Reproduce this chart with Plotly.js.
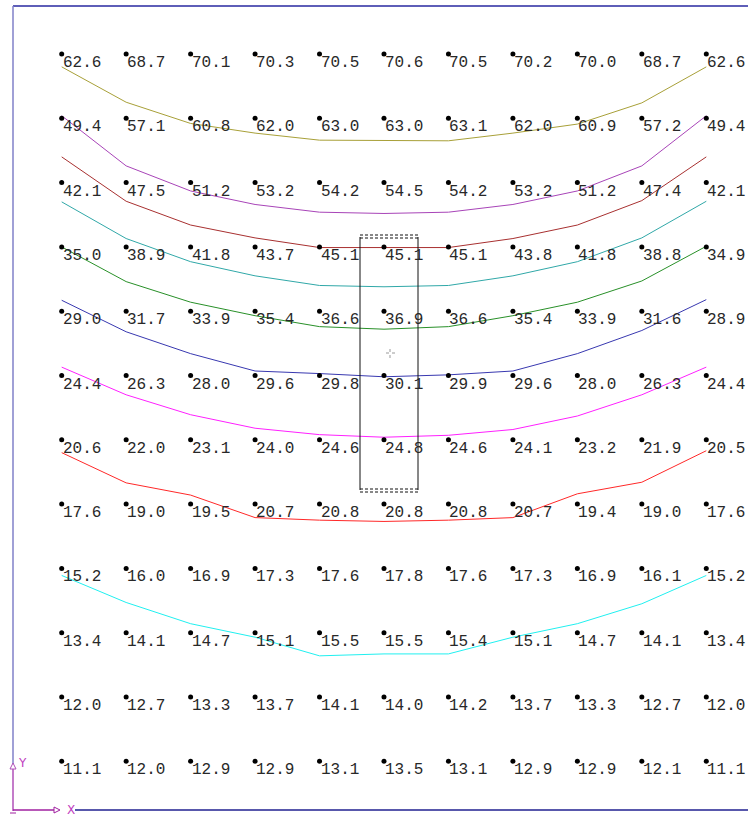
<!DOCTYPE html>
<html><head><meta charset="utf-8">
<script src="https://cdn.plot.ly/plotly-3.0.1.min.js"></script>
<style>html,body{margin:0;padding:0;background:#fff;}#chart{width:748px;height:816px;}</style>
</head><body><div id="chart"></div>
<script>
// Grid columns (x index) and rows (y index, row 0 at top)
const cols = [0,1,2,3,4,5,6,7,8,9,10];
const rows = [0,1,2,3,4,5,6,7,8,9,10,11];
// Measured values, one array per row (top to bottom)
const row0  = [62.6,68.7,70.1,70.3,70.5,70.6,70.5,70.2,70.0,68.7,62.6];
const row1  = [49.4,57.1,60.8,62.0,63.0,63.0,63.1,62.0,60.9,57.2,49.4];
const row2  = [42.1,47.5,51.2,53.2,54.2,54.5,54.2,53.2,51.2,47.4,42.1];
const row3  = [35.0,38.9,41.8,43.7,45.1,45.1,45.1,43.8,41.8,38.8,34.9];
const row4  = [29.0,31.7,33.9,35.4,36.6,36.9,36.6,35.4,33.9,31.6,28.9];
const row5  = [24.4,26.3,28.0,29.6,29.8,30.1,29.9,29.6,28.0,26.3,24.4];
const row6  = [20.6,22.0,23.1,24.0,24.6,24.8,24.6,24.1,23.2,21.9,20.5];
const row7  = [17.6,19.0,19.5,20.7,20.8,20.8,20.8,20.7,19.4,19.0,17.6];
const row8  = [15.2,16.0,16.9,17.3,17.6,17.8,17.6,17.3,16.9,16.1,15.2];
const row9  = [13.4,14.1,14.7,15.1,15.5,15.5,15.4,15.1,14.7,14.1,13.4];
const row10 = [12.0,12.7,13.3,13.7,14.1,14.0,14.2,13.7,13.3,12.7,12.0];
const row11 = [11.1,12.0,12.9,12.9,13.1,13.5,13.1,12.9,12.9,12.1,11.1];
const grid = [row0,row1,row2,row3,row4,row5,row6,row7,row8,row9,row10,row11];

// Isolines: row position at each column
const line60 = [0.20,0.75,1.08,1.23,1.34,1.35,1.35,1.23,1.09,0.76,0.20];
const line50 = [0.96,1.74,2.13,2.34,2.46,2.48,2.46,2.34,2.13,1.74,0.96];
const line45 = [1.60,2.29,2.66,2.86,3.01,3.01,3.01,2.87,2.66,2.28,1.60];
const line40 = [2.30,2.87,3.23,3.45,3.60,3.62,3.60,3.45,3.23,2.86,2.29];
const line35 = [3.00,3.54,3.86,4.07,4.24,4.28,4.24,4.07,3.86,3.53,2.99];
const line30 = [3.83,4.32,4.66,4.93,4.97,5.02,4.99,4.93,4.66,4.30,3.82];
const line25 = [4.87,5.30,5.61,5.82,5.92,5.96,5.93,5.84,5.63,5.30,4.87];
const line20 = [6.20,6.67,6.86,7.21,7.25,7.27,7.25,7.21,6.84,6.66,6.17];
const line15 = [8.11,8.53,8.86,9.07,9.36,9.33,9.33,9.07,8.86,8.55,8.11];
const lineSets = [line60,line50,line45,line40,line35,line30,line25,line20,line15];
const lineColors = ['#a8a038','#a844b8','#a83030','#30a8a8','#289028','#3838b0','#ff20ff','#ff2828','#20f0f0'];

const traces = [];
lineSets.forEach((ys,i)=>{
  traces.push({x:cols, y:ys, type:'scatter', mode:'lines', line:{color:lineColors[i], width:1}, hoverinfo:'skip', showlegend:false});
});
const px=[], py=[];
const annotations=[];
rows.forEach(r=>{
  cols.forEach(c=>{
    px.push(c); py.push(r);
    annotations.push({x:c, y:r, xref:'x', yref:'y', text:grid[r][c].toFixed(1), showarrow:false,
      xanchor:'left', yanchor:'top', xshift:-1, yshift:2,
      font:{family:'Liberation Mono, Courier New, monospace', size:16, color:'#282828'}});
  });
});
traces.push({x:px, y:py, type:'scatter', mode:'markers', marker:{color:'#000', size:5}, hoverinfo:'skip', showlegend:false});

// axis-symbol labels
annotations.push({x:16/748, y:1-763/816, xref:'paper', yref:'paper', text:'Y', showarrow:false, xanchor:'left', yanchor:'middle',
  font:{family:'DejaVu Sans', size:12, color:'#c040c0'}});
annotations.push({x:65/748, y:1-810/816, xref:'paper', yref:'paper', text:'X', showarrow:false, xanchor:'left', yanchor:'middle',
  font:{family:'DejaVu Sans', size:12, color:'#c040c0'}});

function P(xp){return xp/748;}
function Q(yp){return 1-yp/816;}
const shapes = [
  // frame
  {type:'line', xref:'paper', yref:'paper', x0:P(13), x1:1, y0:Q(6), y1:Q(6), line:{color:'#2828a0', width:1.5}},
  {type:'line', xref:'paper', yref:'paper', x0:P(13), x1:P(13), y0:Q(6), y1:Q(764), line:{color:'#8080c8', width:1.5}},
  {type:'line', xref:'paper', yref:'paper', x0:P(13), x1:P(13), y0:Q(769), y1:Q(811), line:{color:'#b050b8', width:1.5}},
  {type:'line', xref:'paper', yref:'paper', x0:P(13), x1:P(54), y0:Q(810), y1:Q(810), line:{color:'#a020a0', width:1.5}},
  {type:'line', xref:'paper', yref:'paper', x0:P(75), x1:1, y0:Q(810), y1:Q(810), line:{color:'#202090', width:1.5}},
  {type:'path', xref:'paper', yref:'paper', path:`M ${P(10)} ${Q(769)} L ${P(16)} ${Q(769)} L ${P(13)} ${Q(763)} Z`, line:{color:'#b050b8', width:1}},
  {type:'path', xref:'paper', yref:'paper', path:`M ${P(54)} ${Q(807)} L ${P(54)} ${Q(813)} L ${P(60)} ${Q(810)} Z`, line:{color:'#a020a0', width:1}},
  {type:'line', xref:'paper', yref:'paper', x0:P(10), x1:P(16), y0:Q(813), y1:Q(813), line:{color:'#a020a0', width:1}},
  // selection box
  {type:'line', xref:'paper', yref:'paper', x0:P(360), x1:P(360), y0:Q(237), y1:Q(490), line:{color:'#111', width:1}},
  {type:'line', xref:'paper', yref:'paper', x0:P(418), x1:P(418), y0:Q(237), y1:Q(490), line:{color:'#111', width:1}},
  {type:'line', xref:'paper', yref:'paper', x0:P(360), x1:P(418), y0:Q(235), y1:Q(235), line:{color:'#111', width:1, dash:'3px,2px'}},
  {type:'line', xref:'paper', yref:'paper', x0:P(360), x1:P(418), y0:Q(238), y1:Q(238), line:{color:'#111', width:1, dash:'3px,2px'}},
  {type:'line', xref:'paper', yref:'paper', x0:P(360), x1:P(418), y0:Q(489), y1:Q(489), line:{color:'#111', width:1, dash:'3px,2px'}},
  {type:'line', xref:'paper', yref:'paper', x0:P(360), x1:P(418), y0:Q(492), y1:Q(492), line:{color:'#111', width:1, dash:'3px,2px'}},
  // cursor glyph
  {type:'line', xref:'paper', yref:'paper', x0:P(390), x1:P(390), y0:Q(349), y1:Q(359), line:{color:'#999', width:1, dash:'dot'}},
  {type:'line', xref:'paper', yref:'paper', x0:P(386), x1:P(395), y0:Q(353), y1:Q(353), line:{color:'#999', width:1, dash:'dot'}}
];

const layout = {
  width:748, height:816,
  margin:{l:0,r:0,t:0,b:0},
  paper_bgcolor:'#fff', plot_bgcolor:'#fff',
  showlegend:false,
  xaxis:{range:[-0.957,10.647], visible:false, fixedrange:true},
  yaxis:{range:[11.851,-0.840], visible:false, fixedrange:true},
  annotations:annotations,
  shapes:shapes
};
Plotly.newPlot('chart', traces, layout, {staticPlot:true, displayModeBar:false});
</script>
</body></html>
